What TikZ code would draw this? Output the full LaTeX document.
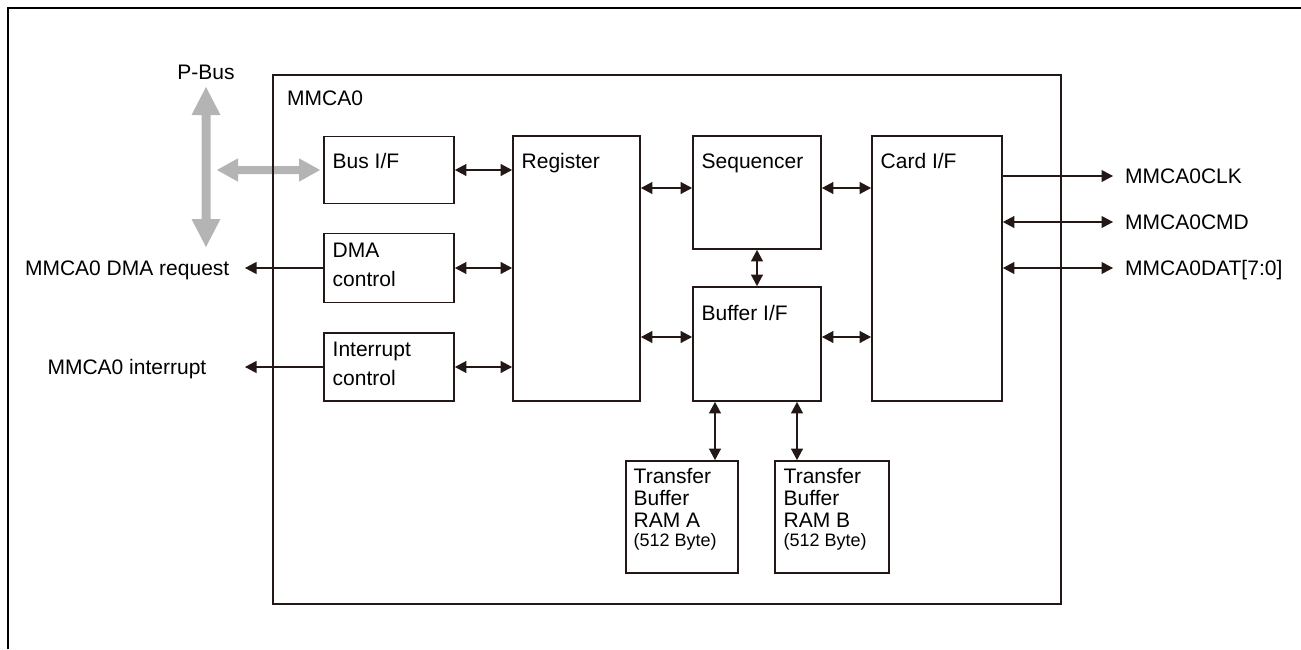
\documentclass[tikz,border=0pt]{standalone}
\usepackage{fontspec}
\setmainfont{Liberation Sans}
\usetikzlibrary{arrows.meta}
\definecolor{ink}{RGB}{35,24,21}
\definecolor{busgray}{RGB}{180,180,180}
\tikzset{
  >={Triangle[length=11.5pt 0 0,width=12pt 0 0]},
  box/.style={draw=ink, line width=1.8pt, inner sep=0pt, rectangle},
  bigbox/.style={draw=ink, line width=2.1pt, inner sep=0pt, rectangle},
  lbl/.style={inner sep=0pt, font=\fontsize{21}{25}\selectfont, text=black},
  small/.style={inner sep=0pt, font=\fontsize{18}{21}\selectfont, text=black},
  conn/.style={draw=ink, line width=1.1pt},
  bus/.style={fill=busgray, draw=none}
}
\begin{document}
\begin{tikzpicture}[x=1pt,y=-1pt]
\useasboundingbox (0,0) rectangle (1301,649);
% outer frame (top and left only)
\draw[line width=2.4pt, black] (8,649) -- (8,8) -- (1301,8);

% P-Bus arrows
\fill[bus] (206,87) -- (220.5,115) -- (210.5,115) -- (210.5,219) -- (220.5,219) -- (206,247)
  -- (191.5,219) -- (201.5,219) -- (201.5,115) -- (191.5,115) -- cycle;
\fill[bus] (217,170) -- (238,158.3) -- (238,166) -- (299,166) -- (299,158.3) -- (320,170)
  -- (299,181.7) -- (299,174) -- (238,174) -- (238,181.7) -- cycle;
\node[lbl, anchor=base] (pbus) at (206,79) {P-Bus};

% main box
\node[bigbox, minimum width=788pt, minimum height=529pt] (mmca) at (667,339.5) {};
\node[lbl, anchor=base west] (mmcal) at (287,105) {MMCA0};

% blocks
\node[box, minimum width=130pt, minimum height=67pt]  (bus)  at (389,170) {};
\node[box, minimum width=130pt, minimum height=69pt]  (dma)  at (389,268) {};
\node[box, minimum width=130pt, minimum height=68pt]  (intr) at (389,367) {};
\node[box, minimum width=127pt, minimum height=265pt] (reg)  at (576.5,268.5) {};
\node[box, minimum width=128pt, minimum height=113pt] (seq)  at (757,192.5) {};
\node[box, minimum width=128pt, minimum height=114pt] (buf)  at (757,344) {};
\node[box, minimum width=130pt, minimum height=265pt] (card) at (937,268.5) {};
\node[box, minimum width=112pt, minimum height=112pt] (ramA) at (682,517) {};
\node[box, minimum width=114pt, minimum height=112pt] (ramB) at (832,517) {};

% block labels
\node[lbl, anchor=base west] (busl)  at (332.5,168.5) {Bus I/F};
\node[lbl, anchor=base west] (regl)  at (521.5,168.5) {Register};
\node[lbl, anchor=base west] (seql)  at (701.5,168.5) {Sequencer};
\node[lbl, anchor=base west] (bufl)  at (701.5,320) {Buffer I/F};
\node[lbl, anchor=base west] (cardl) at (880.5,168.5) {Card I/F};
\node[lbl, anchor=base west] (dmal1) at (332.5,257.5) {DMA};
\node[lbl, anchor=base west] (dmal2) at (332.5,286.5) {control};
\node[lbl, anchor=base west] (intl1) at (332.5,356.5) {Interrupt};
\node[lbl, anchor=base west] (intl2) at (332.5,385) {control};
\node[lbl, anchor=base west] (raA1) at (633.5,483.5) {Transfer};
\node[lbl, anchor=base west] (raA2) at (633.5,505.5) {Buffer};
\node[lbl, anchor=base west] (raA3) at (633.5,527) {RAM A};
\node[small, anchor=base west] (raA4) at (633.5,546.5) {(512 Byte)};
\node[lbl, anchor=base west] (raB1) at (783.5,483.5) {Transfer};
\node[lbl, anchor=base west] (raB2) at (783.5,505.5) {Buffer};
\node[lbl, anchor=base west] (raB3) at (783.5,527) {RAM B};
\node[small, anchor=base west] (raB4) at (783.5,546.5) {(512 Byte)};

% internal connectors
\draw[conn, <->] (bus.east) -- (reg.west |- bus.east);
\draw[conn, <->] (dma.east) -- (reg.west |- dma.east);
\draw[conn, <->] (intr.east) -- (reg.west |- intr.east);
\draw[conn, <->] (reg.east |- 0,188) -- (seq.west |- 0,188);
\draw[conn, <->] (reg.east |- 0,337) -- (buf.west |- 0,337);
\draw[conn, <->] (seq.east |- 0,188) -- (card.west |- 0,188);
\draw[conn, <->] (buf.east |- 0,337) -- (card.west |- 0,337);
\draw[conn, <->] (seq.south) -- (buf.north);
\draw[conn, <->] (buf.south -| 715,0) -- (ramA.north -| 715,0);
\draw[conn, <->] (buf.south -| 797,0) -- (ramB.north -| 797,0);

% external signals
\coordinate (clkE) at (1113,176);
\coordinate (cmdE) at (1113,222);
\coordinate (datE) at (1113,268);
\draw[conn, ->]  (card.east |- clkE) -- (clkE);
\draw[conn, <->] (card.east |- cmdE) -- (cmdE);
\draw[conn, <->] (card.east |- datE) -- (datE);
\node[lbl, anchor=base west] (clkl) at (1125,183.5) {MMCA0CLK};
\node[lbl, anchor=base west] (cmdl) at (1125,229.5) {MMCA0CMD};
\node[lbl, anchor=base west] (datl) at (1125,275.5) {MMCA0DAT[7:0]};

\coordinate (dmaE) at (245,268);
\coordinate (intE) at (245,367);
\draw[conn, ->] (dma.west) -- (dmaE);
\draw[conn, ->] (intr.west) -- (intE);
\node[lbl, anchor=base east] (dmarq) at (229.5,275) {MMCA0 DMA request};
\node[lbl, anchor=base east] (intrq) at (206.5,374) {MMCA0 interrupt};
\end{tikzpicture}
\end{document}
